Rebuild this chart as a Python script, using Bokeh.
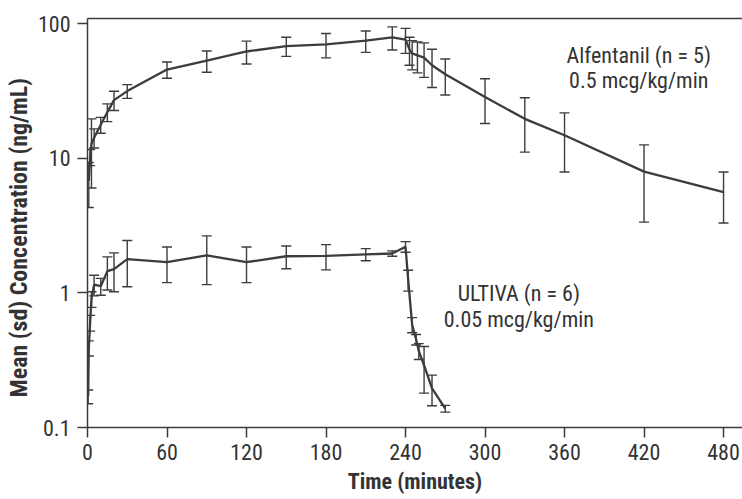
from bokeh.plotting import figure
from bokeh.models import (Whisker, ColumnDataSource, Label, LinearAxis, Range1d,
                          FixedTicker, TeeHead, Title)
from bokeh.embed import file_html
from bokeh.resources import INLINE

# Alfentanil 0.5 mcg/kg/min (n = 5)
alf_time = [1, 2, 3, 5, 10, 15, 20, 30, 60, 90, 120, 150, 180, 210, 230, 240,
            243, 245, 249, 254, 260, 270, 300, 330, 360, 420, 480]
alf_mean = [6.8, 10.2, 12.8, 14.2, 17.7, 22.0, 27.0, 31.5, 45.5, 53.0, 62.0, 68.0,
            70.0, 74.6, 79.0, 76.0, 64.0, 60.0, 58.0, 55.8, 49.0, 42.0, 28.5,
            19.6, 14.8, 7.95, 5.6]
alf_sd = [2.5, 1.4, 6.8, 2.3, 2.4, 3.3, 4.4, 3.7, 6.3, 9.5, 12.0, 11.0, 14.4,
          13.5, 15.4, 16.0, 15.0, 14.7, 15.0, 16.0, 15.5, 12.5, 10.4, 8.5, 6.9,
          4.6, 2.3]

# ULTIVA 0.05 mcg/kg/min (n = 6)
ult_time = [0.5, 1, 2, 3, 5, 10, 15, 20, 30, 60, 90, 120, 150, 180, 210, 230,
            240, 242, 245, 248, 250, 254, 260, 270]
ult_mean = [0.17, 0.39, 0.6, 0.9, 1.15, 1.12, 1.45, 1.5, 1.78, 1.69, 1.9, 1.69,
            1.87, 1.88, 1.93, 1.96, 2.2, 1.25, 0.58, 0.45, 0.37, 0.29, 0.195,
            0.138]
ult_sd = [0.02, 0.05, 0.08, 0.12, 0.2, 0.16, 0.4, 0.48, 0.67, 0.5, 0.75, 0.5,
          0.36, 0.4, 0.2, 0.09, 0.2, 0.22, 0.075, 0.04, 0.05, 0.11, 0.05, 0.008]

x_ticks = [0, 60, 120, 180, 240, 300, 360, 420, 480]
y_ticks = [0.1, 1, 10, 100]
y_tick_labels = ["0.1", "1", "10", "100"]

FONT = "Roboto Condensed, Roboto, sans-serif"
INK = "#3c3c3c"
TXT = "#333333"

p = figure(width=742, height=499, y_axis_type="log",
           x_range=Range1d(0, 494.3), y_range=Range1d(0.1, 109),
           output_backend="svg", toolbar_location=None,
           min_border_left=86, min_border_top=18, min_border_right=0,
           min_border_bottom=72)

p.xgrid.grid_line_color = None
p.ygrid.grid_line_color = None
p.outline_line_color = None
p.background_fill_color = "white"
p.border_fill_color = "white"

for ax in (p.xaxis[0], p.yaxis[0]):
    ax.axis_line_color = INK
    ax.axis_line_width = 1.5
    ax.major_tick_line_color = INK
    ax.major_tick_line_width = 1.5
    ax.major_tick_out = 10
    ax.major_tick_in = 0
    ax.minor_tick_line_color = None
    ax.major_label_text_font = FONT
    ax.major_label_text_font_size = "22px"
    ax.major_label_text_color = TXT
    ax.axis_label_text_font = FONT
    ax.axis_label_text_font_size = "22px"
    ax.axis_label_text_font_style = "bold"
    ax.axis_label_text_color = TXT

p.xaxis.ticker = FixedTicker(ticks=x_ticks)
p.xaxis.major_label_standoff = 6
p.xaxis.axis_label = "Time (minutes)"
p.xaxis.axis_label_standoff = 6

p.yaxis.ticker = FixedTicker(ticks=y_ticks)
p.yaxis.major_label_overrides = {t: s for t, s in zip(y_ticks, y_tick_labels)}
p.yaxis.major_label_standoff = 7

# y-axis title, starting a little above the bottom of the frame as in the original
p.add_layout(Title(text="Mean (sd) Concentration (ng/mL)", align="left",
                   offset=30, text_font=FONT, text_font_size="24px",
                   text_font_style="bold", text_color=TXT, standoff=4),
             "left")

top = LinearAxis(ticker=FixedTicker(ticks=[]), axis_line_color=INK,
                 axis_line_width=1.5, major_tick_line_color=None,
                 minor_tick_line_color=None)
p.add_layout(top, "above")

def add_series(t, m, s):
    src = ColumnDataSource(dict(
        t=t, m=m,
        lo=[a - b for a, b in zip(m, s)],
        hi=[a + b for a, b in zip(m, s)],
    ))
    w = Whisker(source=src, base="t", lower="lo", upper="hi",
                line_color=INK, line_width=1.4,
                lower_head=TeeHead(size=10, line_color=INK, line_width=1.4),
                upper_head=TeeHead(size=10, line_color=INK, line_width=1.4))
    p.add_layout(w)
    p.line("t", "m", source=src, line_color=INK, line_width=2.3)

add_series(alf_time, alf_mean, alf_sd)
add_series(ult_time, ult_mean, ult_sd)

labels = [
    (416, 57.9, "Alfentanil (n = 5)"),
    (416, 37.8, "0.5 mcg/kg/min"),
    (325.5, 0.99, "ULTIVA (n = 6)"),
    (325.5, 0.634, "0.05 mcg/kg/min"),
]
for lx, ly, txt in labels:
    p.add_layout(Label(x=lx, y=ly, text=txt, text_align="center",
                       text_baseline="middle", text_font=FONT,
                       text_font_size="22px", text_color=TXT))

open("out.html", "w").write(file_html(p, INLINE))
